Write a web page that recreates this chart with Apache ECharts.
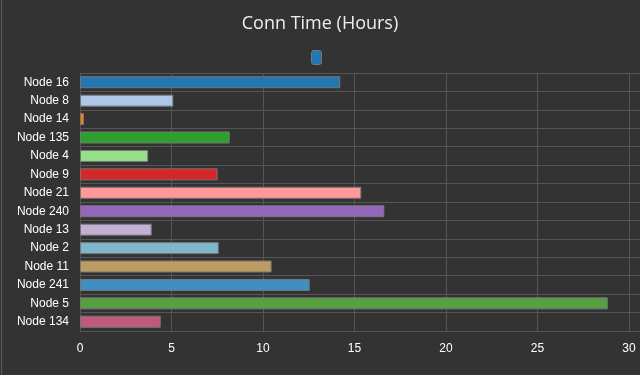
<!DOCTYPE html>
<html><head><meta charset="utf-8">
<script src="https://cdn.jsdelivr.net/npm/echarts@6/dist/echarts.min.js"></script>
<style>
html,body{margin:0;padding:0;background:#333;}
#c{position:absolute;left:0;top:0;width:640px;height:375px;background:#333;}
#edge{position:absolute;left:1px;top:0;width:1px;height:375px;background:#5a5a5a;}
</style></head>
<body><div id="c"></div><div id="edge"></div>
<script>
const categories = ["Node 16","Node 8","Node 14","Node 135","Node 4","Node 9","Node 21","Node 240","Node 13","Node 2","Node 11","Node 241","Node 5","Node 134"];
const values = [14.22, 5.10, 0.22, 8.18, 3.73, 7.52, 15.37, 16.63, 3.92, 7.58, 10.47, 12.55, 28.84, 4.41];
const barColors = ["#1f77b4","#aec7e8","#ff7f0e","#2ca02c","#98df8a","#d62728","#ff9896","#9467bd","#c5b0d5","#7fb6ca","#bc9c62","#3f90c0","#56a042","#c05a7a"];
const xTicks = [0,5,10,15,20,25,30];
const seriesName = 'Conn Time';

const chart = echarts.init(document.getElementById('c'), null, {renderer:'canvas'});
chart.setOption({
  backgroundColor:'#333333',
  animation:false,
  title:{text:'Conn Time (Hours)', left:'center', top:10,
    textStyle:{color:'#eeeeee', fontSize:18, fontWeight:'normal', fontFamily:'Open Sans, Noto Sans, sans-serif'}},
  legend:{data:[{name:seriesName, icon:'roundRect'}], top:45, left:306, itemWidth:10, itemHeight:14, itemGap:0,
    formatter:()=>'', textStyle:{color:'#eee'},
    itemStyle:{color:'#1f77b4', borderColor:'#777', borderWidth:1}},
  grid:{left:80, right:0, top:73, bottom:44, containLabel:false},
  xAxis:{type:'value', min:0, max:30.6, interval:5,
    axisLine:{show:false}, axisTick:{show:false},
    axisLabel:{color:'#ffffff', fontSize:12, fontFamily:'Liberation Sans, Arial, sans-serif', margin:12, showMaxLabel:false,
      formatter:v=> xTicks.includes(v) ? String(v) : ''},
    splitLine:{show:true, lineStyle:{color:'#555555', width:1}}},
  yAxis:{type:'category', data:categories, inverse:true,
    axisLine:{show:false}, axisTick:{show:false},
    axisLabel:{color:'#ffffff', fontSize:12, fontFamily:'Liberation Sans, Arial, sans-serif', margin:11},
    splitLine:{show:true, lineStyle:{color:'#555555', width:1}}},
  series:[{name:seriesName, type:'bar', data:values.map((v,i)=>({value:v, itemStyle:{color:barColors[i]}})),
    barCategoryGap:'35%',
    itemStyle:{borderColor:'#777777', borderWidth:1}}]
});
</script></body></html>
